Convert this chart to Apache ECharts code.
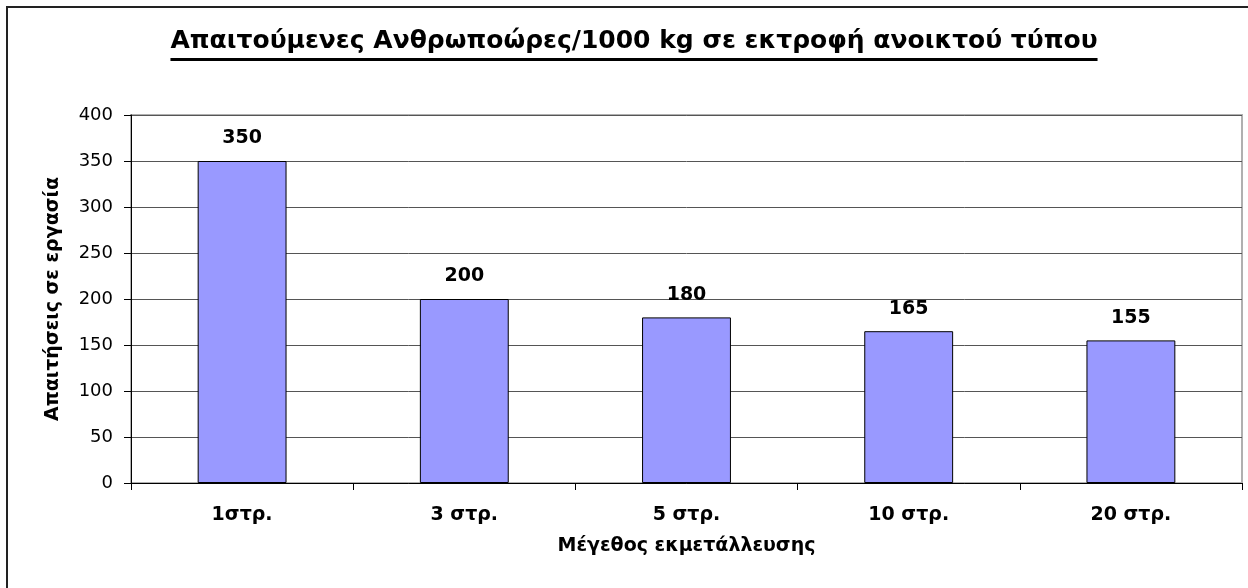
<!DOCTYPE html>
<html>
<head>
<meta charset="utf-8">
<script src="https://cdn.jsdelivr.net/npm/echarts@6/dist/echarts.min.js"></script>
<style>
  html, body { margin: 0; padding: 0; background: #fff; }
  #chart { width: 1248px; height: 588px; }
</style>
</head>
<body>
<div id="chart"></div>
<script>
var categories = ['1στρ.', '3 στρ.', '5 στρ.', '10 στρ.', '20 στρ.'];
var hours = [350, 200, 180, 165, 155];
var yTicks = [0, 50, 100, 150, 200, 250, 300, 350, 400];

var titleText = 'Απαιτούμενες Ανθρωποώρες/1000 kg σε εκτροφή ανοικτού τύπου';
var titleFont = 'bold 25px "DejaVu Sans"';
var fontFam = '"DejaVu Sans", sans-serif';

// measure title so the underline fits it
var cv = document.createElement('canvas').getContext('2d');
cv.font = titleFont;
var titleW = cv.measureText(titleText).width;
var titleCx = 634;

var myChart = echarts.init(document.getElementById('chart'));
var option = {
	backgroundColor: '#fff',
	animation: false,
	title: {
		text: titleText,
		left: titleCx - titleW / 2,
		top: 29,
		padding: 0,
		textStyle: {
			fontFamily: fontFam,
			fontSize: 25,
			fontWeight: 'bold',
			color: '#000'
		}
	},
	graphic: [
		{
			type: 'rect',
			shape: { x: 7, y: 7, width: 1400, height: 800 },
			style: { fill: 'none', stroke: '#222', lineWidth: 2 }
		},
		{
			type: 'rect',
			shape: { x: titleCx - titleW / 2, y: 58, width: titleW, height: 3 },
			style: { fill: '#000' }
		}
	],
	grid: {
		left: 131,
		top: 115,
		right: 6,
		bottom: 105,
		show: true,
		borderColor: '#b0b0b0',
		borderWidth: 2,
		backgroundColor: '#fff'
	},
	xAxis: {
		type: 'category',
		data: categories,
		name: 'Μέγεθος εκμετάλλευσης',
		nameLocation: 'middle',
		nameGap: 54,
		nameTextStyle: {
			fontFamily: fontFam,
			fontSize: 19,
			fontWeight: 'bold',
			color: '#000'
		},
		axisLine: { lineStyle: { color: '#000', width: 1 } },
		axisTick: { show: true, length: 7, lineStyle: { color: '#000' } },
		axisLabel: {
			margin: 23,
			fontFamily: fontFam,
			fontSize: 19,
			fontWeight: 'bold',
			color: '#000'
		}
	},
	yAxis: {
		type: 'value',
		min: yTicks[0],
		max: yTicks[yTicks.length - 1],
		interval: yTicks[1] - yTicks[0],
		name: 'Απαιτήσεις σε εργασία',
		nameLocation: 'middle',
		nameGap: 68,
		nameTextStyle: {
			fontFamily: fontFam,
			fontSize: 19,
			fontWeight: 'bold',
			color: '#000'
		},
		axisLine: { show: true, lineStyle: { color: '#000', width: 1 } },
		axisTick: { show: true, length: 7, lineStyle: { color: '#000' } },
		axisLabel: {
			margin: 18,
			fontFamily: fontFam,
			fontSize: 18,
			color: '#000'
		},
		splitLine: { lineStyle: { color: '#555', width: 1 } }
	},
	series: [{
		type: 'bar',
		data: hours,
		barWidth: '40%',
		itemStyle: { color: '#9999FF', borderColor: '#000', borderWidth: 1 },
		label: {
			show: true,
			position: 'top',
			distance: 13,
			fontFamily: fontFam,
			fontSize: 19,
			fontWeight: 'bold',
			color: '#000'
		}
	}]
};
myChart.setOption(option);
</script>
</body>
</html>
